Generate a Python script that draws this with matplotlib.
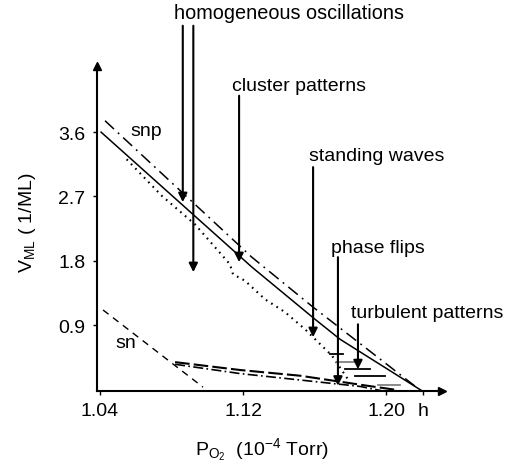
import matplotlib
matplotlib.use('Agg')
import matplotlib.pyplot as plt

plt.rcParams['font.family'] = ['Liberation Sans', 'DejaVu Sans']
plt.rcParams['mathtext.fontset'] = 'custom'
plt.rcParams['mathtext.rm'] = 'Liberation Sans'
plt.rcParams['mathtext.it'] = 'Liberation Sans:italic'

# upper boundaries (snp)
solid_x = [1.0406, 1.1250, 1.1603, 1.1743, 1.2200]
solid_y = [3.60, 1.71, 0.98, 0.70, -0.02]
dashdot_x = [1.0428, 1.1249, 1.1592, 1.2190]
dashdot_y = [3.76, 1.85, 1.15, -0.01]
dotted_x = [1.0549, 1.0745, 1.0931, 1.1127, 1.1144, 1.1211, 1.1323, 1.1435,
            1.1547, 1.1620, 1.1698, 1.1787]
dotted_y = [3.22, 2.71, 2.31, 1.75, 1.61, 1.52, 1.26, 1.08, 0.84, 0.66, 0.47, 0.14]

# sn line
sn_x = [1.0417, 1.0976]
sn_y = [1.11, 0.03]

# lower lines
low1_x = [1.0820, 1.1183, 1.1519, 1.1894, 1.2062]
low1_y = [0.38, 0.27, 0.19, 0.05, -0.01]
low2_x = [1.0820, 1.1183, 1.1519, 1.1855, 1.1994]
low2_y = [0.35, 0.22, 0.13, 0.04, -0.03]

# short horizontal bars near the end
bar_x0 = [1.1687, 1.1726, 1.1771, 1.1827, 1.1956]
bar_x1 = [1.1760, 1.1827, 1.1911, 1.1994, 1.2078]
bar_y = [0.49, 0.38, 0.28, 0.19, 0.06]
bar_c = ['black', 'gray', 'black', 'black', 'gray']

# regime arrows: x, tail y, head y
arr_x = [1.0863, 1.0922, 1.1178, 1.1592, 1.1731, 1.1843]
arr_tail = [5.09, 5.09, 4.11, 3.11, 1.85, 0.91]
arr_head = [2.62, 1.64, 1.78, 0.73, 0.05, 0.28]

xticks = [1.04, 1.12, 1.20]
yticks = [0.9, 1.8, 2.7, 3.6]
h_pos = 1.2205

fig = plt.figure(figsize=(5.05, 4.77), dpi=100)
ax = fig.add_axes([0.1915, 0.1782, 0.6838, 0.6813])
ax.set_xlim(1.03815, 1.23133)
ax.set_ylim(-0.024, 4.526)

ax.plot(solid_x, solid_y, color='black', lw=1.1)
ax.plot(dashdot_x, dashdot_y, color='black', lw=1.1, linestyle=(0, (8, 3.5, 1.2, 3.5)))
ax.plot(dotted_x, dotted_y, color='black', lw=1.5, linestyle=(0, (0.8, 2.2)))
ax.plot(sn_x, sn_y, color='black', lw=1.0, linestyle=(0, (5, 4)))
ax.plot(low1_x, low1_y, color='black', lw=1.5, linestyle=(0, (7, 2)))
ax.plot(low2_x, low2_y, color='black', lw=1.2, linestyle=(0, (6, 2, 1, 2)))
for x0, x1, y, c in zip(bar_x0, bar_x1, bar_y, bar_c):
    ax.plot([x0, x1], [y, y], color=c, lw=1.3)

for x, t, hd in zip(arr_x, arr_tail, arr_head):
    ax.annotate('', xy=(x, hd), xytext=(x, t),
                arrowprops=dict(arrowstyle='-|>', color='black', lw=1.5,
                                mutation_scale=13, shrinkA=0, shrinkB=0),
                annotation_clip=False)

fs = 14
ax.text(1.146, 5.28, 'homogeneous oscillations', ha='center', va='center', fontsize=14.3, clip_on=False)
ax.text(1.1513, 4.26, 'cluster patterns', ha='center', va='center', fontsize=fs, clip_on=False)
ax.text(1.195, 3.27, 'standing waves', ha='center', va='center', fontsize=fs, clip_on=False)
ax.text(1.1955, 1.99, 'phase flips', ha='center', va='center', fontsize=fs, clip_on=False)
ax.text(1.2229, 1.08, 'turbulent patterns', ha='center', va='center', fontsize=fs, clip_on=False)
ax.text(1.0657, 3.62, 'snp', ha='center', va='center', fontsize=fs)
ax.text(1.0545, 0.66, 'sn', ha='center', va='center', fontsize=fs)

for s in ['top', 'right']:
    ax.spines[s].set_visible(False)
for s in ['left', 'bottom']:
    ax.spines[s].set_linewidth(1.5)
ax.plot(1, -0.024, '>k', transform=ax.get_yaxis_transform(), clip_on=False, markersize=6)
ax.plot(1.03815, 1, '^k', transform=ax.get_xaxis_transform(), clip_on=False, markersize=6)

ax.set_xticks(xticks + [h_pos])
ax.set_xticklabels(['1.04', '1.12', '1.20', 'h'])
ax.set_yticks(yticks)
ax.set_yticklabels(['0.9', '1.8', '2.7', '3.6'])
ax.tick_params(axis='both', labelsize=fs, length=3, width=1, direction='out', pad=5)

fig.text(262 / 505, 1 - 450 / 477, r'P$_{\mathrm{O}_2}$  (10$^{-4}$ Torr)',
         ha='center', va='center', fontsize=fs)
fig.text(27 / 505, 1 - 223 / 477, r'V$_{\mathrm{ML}}$ ( 1/ML)', ha='center', va='center',
         rotation=90, fontsize=fs)

plt.savefig('out.png', dpi=100)
